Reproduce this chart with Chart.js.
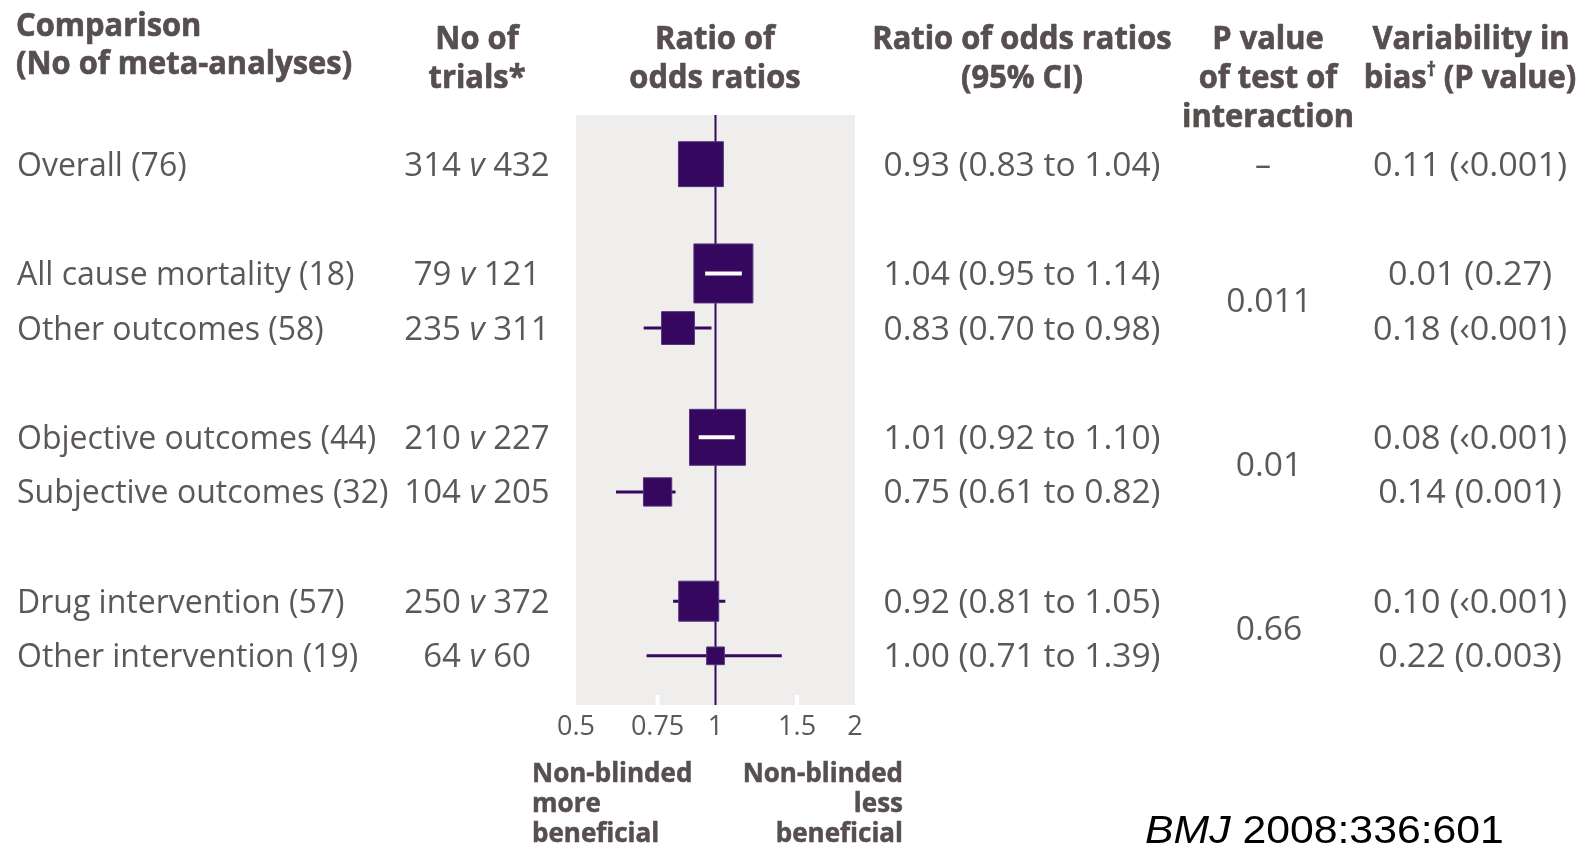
<!DOCTYPE html>
<html>
<head>
<meta charset="utf-8">
<title>Ratio of odds ratios — non-blinded vs blinded trials</title>
<script src="https://cdn.jsdelivr.net/npm/chart.js@4.4.1/dist/chart.umd.min.js"></script>
<style>
  html, body { margin: 0; padding: 0; background: #ffffff; }
  canvas { display: block; }
</style>
</head>
<body>
<canvas id="forest" width="1583" height="846"></canvas>
<script>
// ---- data -------------------------------------------------------------
const comparisons = [
  'Overall (76)',
  'All cause mortality (18)',
  'Other outcomes (58)',
  'Objective outcomes (44)',
  'Subjective outcomes (32)',
  'Drug intervention (57)',
  'Other intervention (19)'
];
const trialsNonBlinded = [314, 79, 235, 210, 104, 250, 64];
const trialsBlinded    = [432, 121, 311, 227, 205, 372, 60];
const ratioOfOdds = [0.93, 1.04, 0.83, 1.01, 0.75, 0.92, 1.00];
const ciLower     = [0.83, 0.95, 0.70, 0.92, 0.61, 0.81, 0.71];
const ciUpper     = [1.04, 1.14, 0.98, 1.10, 0.82, 1.05, 1.39];
// weight of each summary estimate, as % of the largest one
const relativeWeight = [58, 100, 31, 90, 23, 46, 9];
const biasVariability = ['0.11', '0.01', '0.18', '0.08', '0.14', '0.10', '0.22'];
const biasPValue      = ['‹0.001', '0.27', '‹0.001', '‹0.001', '0.001', '‹0.001', '0.003'];
// row slot of each comparison (groups separated by an empty slot)
const rowSlot = [0, 2, 3, 5, 6, 8, 9];
const interactionP    = ['0.011', '0.01', '0.66'];
const interactionSlot = [2.5, 5.5, 8.5];
const xTicks = [0.5, 0.75, 1, 1.5, 2];

// ---- look -------------------------------------------------------------
const PURPLE = '#36075f';
const PANEL = '#f0eeed';
const TEXT = '#5c5758';
const HEAD = '#574f4f';
const SANS = '"Open Sans", "Noto Sans", sans-serif';
const BODY_FONT = '32px ' + SANS;
const BODY_ITALIC = 'italic 32px ' + SANS;
const HEAD_FONT = 'bold 33px ' + SANS;
const HEAD_SUP = 'bold 19px ' + SANS;
const NOTE_FONT = 'bold 26px ' + SANS;
const Y_MIN = -0.9, Y_MAX = 9.9;
const MAX_BOX = 59;

function boxSide(i) {
  return MAX_BOX * Math.sqrt(relativeWeight[i] / 100);
}

// draw a run of text pieces with different fonts, optionally squeezed horizontally
function drawRich(ctx, parts, x, y, align, sx, heavy) {
  sx = sx || 1;
  let total = 0;
  parts.forEach(p => { ctx.font = p.font; p.w = ctx.measureText(p.text).width; total += p.w; });
  const w = total * sx;
  const start = align === 'left' ? x : align === 'right' ? x - w : x - w / 2;
  ctx.save();
  ctx.translate(start, y);
  ctx.scale(sx, 1);
  ctx.textAlign = 'left';
  ctx.textBaseline = 'alphabetic';
  ctx.strokeStyle = ctx.fillStyle;
  ctx.lineWidth = heavy || 0;
  ctx.lineJoin = 'round';
  let cx = 0;
  parts.forEach(p => {
    ctx.font = p.font;
    ctx.fillText(p.text, cx, p.dy || 0);
    if (heavy) ctx.strokeText(p.text, cx, p.dy || 0);
    cx += p.w;
  });
  ctx.restore();
}
function txt(ctx, text, font, x, y, align, sx, heavy) {
  drawRich(ctx, [{ text, font }], x, y, align, sx, heavy);
}
function squeezeFor(ctx, text, font, width) {
  ctx.font = font;
  return width / ctx.measureText(text).width;
}
const fmt = v => v.toFixed(2);
const ciText = i => `${fmt(ratioOfOdds[i])} (${fmt(ciLower[i])} to ${fmt(ciUpper[i])})`;

// grey panel behind the plot
const panelPlugin = {
  id: 'panel',
  beforeDatasetsDraw(chart) {
    const { ctx, chartArea: a, scales: { x } } = chart;
    ctx.save();
    ctx.fillStyle = PANEL;
    ctx.fillRect(a.left, a.top, a.right - a.left, a.bottom - a.top);
    // small white notches at the inner tick positions
    ctx.fillStyle = '#ffffff';
    xTicks.slice(1, -1).forEach(v => {
      if (v === 1) return;
      const px = x.getPixelForValue(v);
      ctx.fillRect(px - 2, a.bottom - 10, 4, 10);
    });
    ctx.restore();
  }
};

// confidence intervals that fit inside their box are shown in white
const innerCiPlugin = {
  id: 'innerCi',
  afterDatasetsDraw(chart) {
    const { ctx, scales: { x, y } } = chart;
    ctx.save();
    ctx.strokeStyle = '#ffffff';
    ctx.lineWidth = 4;
    rowSlot.forEach((s, i) => {
      const c = x.getPixelForValue(ratioOfOdds[i]);
      const half = boxSide(i) / 2;
      const lo = x.getPixelForValue(ciLower[i]);
      const hi = x.getPixelForValue(ciUpper[i]);
      if (lo >= c - half && hi <= c + half) {
        const py = y.getPixelForValue(s);
        ctx.beginPath();
        ctx.moveTo(lo, py);
        ctx.lineTo(hi, py);
        ctx.stroke();
      }
    });
    ctx.restore();
  }
};

// table columns, headers and footnotes
const tablePlugin = {
  id: 'table',
  afterDraw(chart) {
    const { ctx, scales: { y }, chartArea: a } = chart;
    ctx.save();
    const base = s => y.getPixelForValue(s) + 11.5;

    // headers
    ctx.fillStyle = HEAD;
    const hs = 0.935, hw = 0.7;
    txt(ctx, 'Comparison', HEAD_FONT, 16, 36, 'left', hs, hw);
    txt(ctx, '(No of meta-analyses)', HEAD_FONT, 16, 74, 'left', hs, hw);
    txt(ctx, 'No of', HEAD_FONT, 477, 49, 'center', hs, hw);
    txt(ctx, 'trials*', HEAD_FONT, 477, 88, 'center', hs, hw);
    txt(ctx, 'Ratio of', HEAD_FONT, 715, 49, 'center', hs, hw);
    txt(ctx, 'odds ratios', HEAD_FONT, 715, 88, 'center', hs, hw);
    txt(ctx, 'Ratio of odds ratios', HEAD_FONT, 1022, 49, 'center', hs, hw);
    txt(ctx, '(95% CI)', HEAD_FONT, 1022, 88, 'center', hs, hw);
    txt(ctx, 'P value', HEAD_FONT, 1268, 49, 'center', hs, hw);
    txt(ctx, 'of test of', HEAD_FONT, 1268, 88, 'center', hs, hw);
    txt(ctx, 'interaction', HEAD_FONT, 1268, 127, 'center', hs, hw);
    txt(ctx, 'Variability in', HEAD_FONT, 1471, 49, 'center', hs, hw);
    drawRich(ctx, [
      { text: 'bias', font: HEAD_FONT },
      { text: '†', font: HEAD_SUP, dy: -12 },
      { text: ' (P value)', font: HEAD_FONT }
    ], 1470, 88, 'center', hs, hw);

    // body
    ctx.fillStyle = TEXT;
    const ciSq = squeezeFor(ctx, ciText(0), BODY_FONT, 277);
    const pvSq = squeezeFor(ctx, `${biasVariability[0]} (${biasPValue[0]})`, BODY_FONT, 194);
    const trSq = 1.03;
    rowSlot.forEach((s, i) => {
      const b = base(s);
      txt(ctx, comparisons[i], BODY_FONT, 17, b, 'left');
      drawRich(ctx, [
        { text: trialsNonBlinded[i] + ' ', font: BODY_FONT },
        { text: 'v', font: BODY_ITALIC },
        { text: ' ' + trialsBlinded[i], font: BODY_FONT }
      ], 477, b, 'center', trSq);
      txt(ctx, ciText(i), BODY_FONT, 1022, b, 'center', ciSq);
      txt(ctx, `${biasVariability[i]} (${biasPValue[i]})`, BODY_FONT, 1470, b, 'center', pvSq);
    });
    txt(ctx, '–', BODY_FONT, 1263, base(0), 'center');
    interactionSlot.forEach((s, k) => {
      txt(ctx, interactionP[k], BODY_FONT, 1269, base(s), 'center', 1.05);
    });

    // direction notes under the axis
    ctx.fillStyle = HEAD;
    const left = a.left - 44, right = a.right + 48;
    txt(ctx, 'Non-blinded', NOTE_FONT, left, 782, 'left', 1, 0.5);
    txt(ctx, 'more', NOTE_FONT, left, 812, 'left', 1, 0.5);
    txt(ctx, 'beneficial', NOTE_FONT, left, 842, 'left', 1, 0.5);
    txt(ctx, 'Non-blinded', NOTE_FONT, right, 782, 'right', 1, 0.5);
    txt(ctx, 'less', NOTE_FONT, right, 812, 'right', 1, 0.5);
    txt(ctx, 'beneficial', NOTE_FONT, right, 842, 'right', 1, 0.5);

    // source
    ctx.fillStyle = '#000000';
    drawRich(ctx, [
      { text: 'BMJ', font: 'italic 38px "Liberation Sans", sans-serif' },
      { text: ' 2008:336:601', font: '38px "Liberation Sans", sans-serif' }
    ], 1145, 843, 'left', 360 / 320);
    ctx.restore();
  }
};

// ---- datasets ---------------------------------------------------------
const ciSegments = [];
rowSlot.forEach((s, i) => {
  ciSegments.push({ x: ciLower[i], y: s }, { x: ciUpper[i], y: s }, { x: ciUpper[i], y: null });
});
const estimates = rowSlot.map((s, i) => ({ x: ratioOfOdds[i], y: s }));

new Chart(document.getElementById('forest'), {
  type: 'scatter',
  data: {
    datasets: [
      {
        type: 'line',
        label: 'No difference',
        data: [{ x: 1, y: Y_MIN }, { x: 1, y: Y_MAX }],
        borderColor: PURPLE,
        borderWidth: 2,
        pointRadius: 0,
        order: 4
      },
      {
        type: 'line',
        label: '95% CI',
        data: ciSegments,
        borderColor: PURPLE,
        borderWidth: 3,
        pointRadius: 0,
        spanGaps: false,
        order: 3
      },
      {
        type: 'scatter',
        label: 'Ratio of odds ratios',
        data: estimates,
        pointStyle: 'rect',
        pointRadius: c => boxSide(c.dataIndex) / Math.SQRT2,
        pointHoverRadius: c => boxSide(c.dataIndex) / Math.SQRT2,
        backgroundColor: PURPLE,
        borderColor: '#53357a',
        borderWidth: 1,
        order: 2
      }
    ]
  },
  options: {
    responsive: false,
    animation: false,
    events: [],
    layout: { padding: { left: 576, right: 728, top: 115, bottom: 101 } },
    plugins: { legend: { display: false }, tooltip: { enabled: false } },
    scales: {
      x: {
        type: 'logarithmic',
        min: 0.5,
        max: 2,
        afterBuildTicks: s => { s.ticks = xTicks.map(v => ({ value: v })); },
        afterFit: s => { s.height = 40; },
        grid: { display: false, drawTicks: false },
        border: { display: false },
        ticks: {
          autoSkip: false,
          maxRotation: 0,
          padding: 6,
          color: TEXT,
          font: { family: SANS, size: 27 },
          callback: v => String(v)
        }
      },
      y: {
        type: 'linear',
        reverse: true,
        min: Y_MIN,
        max: Y_MAX,
        display: false
      }
    }
  },
  plugins: [panelPlugin, innerCiPlugin, tablePlugin]
});
</script>
</body>
</html>
